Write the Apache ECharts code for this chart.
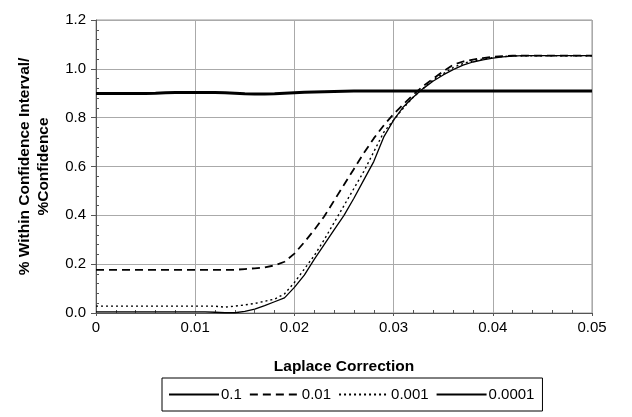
<!DOCTYPE html>
<html>
<head>
<meta charset="utf-8">
<script src="https://cdn.jsdelivr.net/npm/echarts@6/dist/echarts.min.js"></script>
<style>html,body{margin:0;padding:0;background:#fff}#c{width:632px;height:417px}</style>
</head>
<body>
<div id="c"></div>
<script>
const xs = [0,0.001,0.002,0.003,0.004,0.005,0.006,0.007,0.008,0.009,0.010,0.011,0.012,0.013,0.014,0.015,0.016,0.017,0.018,0.019,0.020,0.021,0.022,0.023,0.024,0.025,0.026,0.027,0.028,0.029,0.030,0.031,0.032,0.033,0.034,0.035,0.036,0.037,0.038,0.039,0.040,0.041,0.042,0.043,0.044,0.045,0.046,0.047,0.048,0.049,0.050];
const seriesNames = ['0.1','0.01','0.001','0.0001'];
const s01 = [0.899,0.899,0.899,0.899,0.899,0.899,0.900,0.902,0.903,0.903,0.903,0.903,0.903,0.902,0.900,0.898,0.897,0.897,0.898,0.900,0.902,0.904,0.905,0.906,0.907,0.908,0.909,0.909,0.909,0.909,0.909,0.909,0.909,0.909,0.909,0.909,0.909,0.909,0.909,0.909,0.909,0.909,0.909,0.909,0.909,0.909,0.909,0.909,0.909,0.909,0.909];
const s001 = [0.177,0.177,0.177,0.177,0.177,0.177,0.177,0.177,0.177,0.177,0.177,0.177,0.177,0.177,0.177,0.180,0.183,0.187,0.195,0.210,0.243,0.29,0.34,0.395,0.46,0.525,0.59,0.655,0.715,0.768,0.815,0.855,0.895,0.93,0.96,0.99,1.016,1.03,1.038,1.044,1.049,1.052,1.054,1.054,1.054,1.054,1.054,1.054,1.054,1.054,1.054];
const s0001 = [0.028,0.028,0.028,0.028,0.028,0.028,0.028,0.028,0.028,0.028,0.028,0.028,0.028,0.024,0.028,0.033,0.039,0.048,0.057,0.078,0.125,0.18,0.235,0.30,0.37,0.44,0.51,0.58,0.66,0.74,0.79,0.84,0.885,0.92,0.955,0.98,1.005,1.022,1.032,1.04,1.046,1.05,1.053,1.053,1.053,1.053,1.053,1.053,1.053,1.053,1.053];
const s00001 = [0.005,0.005,0.005,0.005,0.005,0.005,0.005,0.005,0.005,0.005,0.005,0.005,0.003,0.001,0.001,0.007,0.016,0.030,0.046,0.062,0.105,0.155,0.22,0.28,0.34,0.40,0.47,0.545,0.62,0.72,0.79,0.845,0.885,0.92,0.95,0.975,0.997,1.015,1.028,1.037,1.044,1.049,1.052,1.054,1.054,1.054,1.054,1.054,1.054,1.054,1.054];
const xTitle = 'Laplace Correction';
const yTitle = '% Within Confidence Interval/\n%Confidence';

const pairs = arr => xs.map((x, i) => [x, arr[i]]);
const styles = [
  {width: 3, type: 'solid'},
  {width: 1.8, type: [8, 5]},
  {width: 1.4, type: [2, 3]},
  {width: 1.3, type: 'solid'}
];
const datasets = [s01, s001, s0001, s00001];

const chart = echarts.init(document.getElementById('c'));
const font = 'Liberation Sans, Arial, sans-serif';
chart.setOption({
  animation: false,
  grid: {left: 96, right: 40, top: 20, bottom: 104, show: true, borderColor: '#999', borderWidth: 1},
  xAxis: [{
    type: 'value', min: 0, max: 0.05, interval: 0.01,
    name: xTitle, nameLocation: 'middle', nameGap: 46,
    nameTextStyle: {fontFamily: font, fontSize: 15.5, fontWeight: 'bold', color: '#000'},
    axisLine: {show: true, onZero: false, lineStyle: {color: '#555', width: 1}},
    axisTick: {show: true, inside: false, length: 3, lineStyle: {color: '#555'}},
    axisLabel: {fontFamily: font, fontSize: 15, color: '#000', margin: 7},
    splitLine: {show: true, lineStyle: {color: '#aaa', width: 1}}
  }, {
    type: 'value', min: 0, max: 0.05, interval: 0.01, position: 'bottom',
    axisLine: {show: false}, axisLabel: {show: false}, splitLine: {show: false},
    axisTick: {show: true, inside: true, length: 0},
    minorTick: {show: true, splitNumber: 5, length: 3, lineStyle: {color: '#555'}}
  }],
  yAxis: [{
    type: 'value', min: 0, max: 1.2, interval: 0.2,
    name: yTitle, nameLocation: 'middle', nameGap: 43, nameRotate: 90,
    nameTextStyle: {fontFamily: font, fontSize: 15.5, fontWeight: 'bold', color: '#000', lineHeight: 19},
    axisLine: {show: true, lineStyle: {color: '#555', width: 1}},
    axisTick: {show: true, inside: false, length: 5, lineStyle: {color: '#555'}},
    axisLabel: {fontFamily: font, fontSize: 15, color: '#000', margin: 10, formatter: v => v.toFixed(1)},
    splitLine: {show: true, lineStyle: {color: '#aaa', width: 1}}
  }, {
    type: 'value', min: 0, max: 1.2, interval: 0.2, position: 'left',
    axisLine: {show: false}, axisLabel: {show: false}, splitLine: {show: false},
    axisTick: {show: true, inside: true, length: 0},
    minorTick: {show: true, splitNumber: 5, length: 3, lineStyle: {color: '#555'}}
  }],
  legend: {
    left: 162, top: 378, orient: 'horizontal',
    borderColor: '#000', borderWidth: 1, padding: [9, 8, 9, 6],
    itemWidth: 50, itemHeight: 14, itemGap: 7,
    itemStyle: {opacity: 0},
    textStyle: {fontFamily: font, fontSize: 15, color: '#000', padding: [0, 0, 0, -3]},
    data: seriesNames
  },
  series: datasets.map((d, i) => ({
    name: seriesNames[i], type: 'line', data: pairs(d),
    xAxisIndex: 0, yAxisIndex: 0,
    symbol: 'none', smooth: false,
    lineStyle: Object.assign({color: '#000'}, styles[i]),
    itemStyle: {color: '#000'}
  }))
});
</script>
</body>
</html>
